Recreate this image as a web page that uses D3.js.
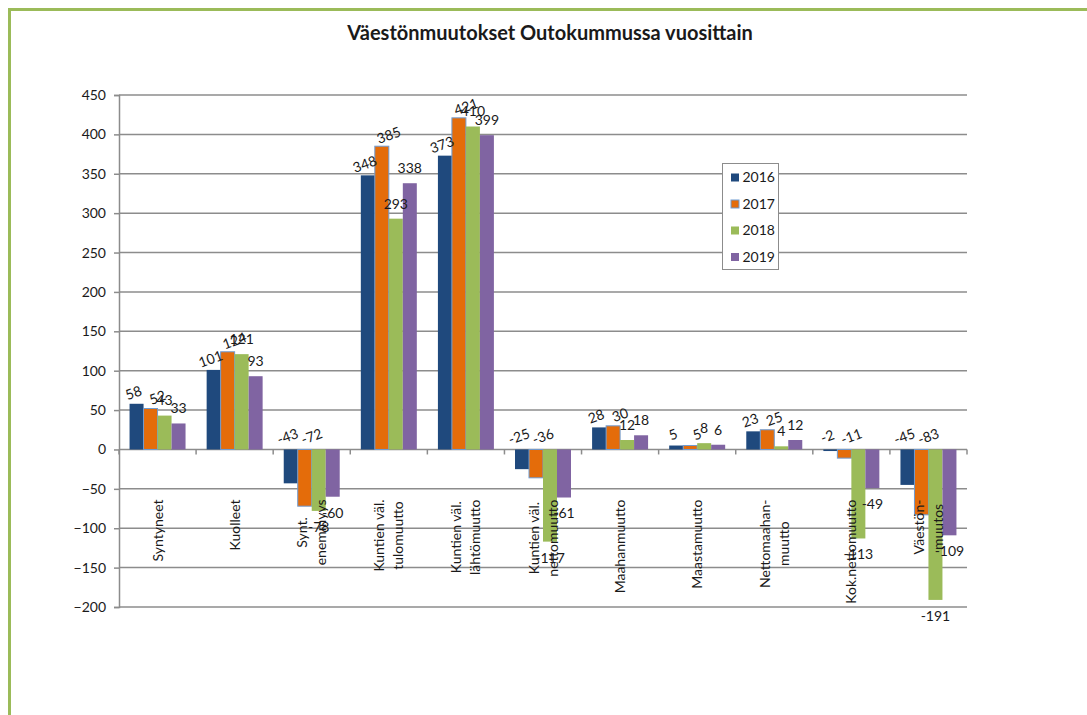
<!DOCTYPE html>
<html>
<head>
<meta charset="utf-8">
<script src="https://cdn.jsdelivr.net/npm/d3@7"></script>
<style>
  body { margin: 0; background: #fff; }
  text { font-family: Lato, "Open Sans", sans-serif; fill: #1a1a1a; }
</style>
</head>
<body>
<div id="chart"></div>
<script>
"use strict";

// data
var categories = ["Syntyneet", "Kuolleet", "Synt.\nenemmyys", "Kuntien väl.\ntulomuutto",
  "Kuntien väl.\nlähtömuutto", "Kuntien väl.\nnettomuutto", "Maahanmuutto", "Maastamuutto",
  "Nettomaahan-\nmuutto", "Kok.nettomuutto", "Väestön-\nmuutos"];
var years = ["2016", "2017", "2018", "2019"];
var values2016 = [58, 101, -43, 348, 373, -25, 28, 5, 23, -2, -45];
var values2017 = [52, 124, -72, 385, 421, -36, 30, 5, 25, -11, -83];
var values2018 = [43, 121, -78, 293, 410, -117, 12, 8, 4, -113, -191];
var values2019 = [33, 93, -60, 338, 399, -61, 18, 6, 12, -49, -109];
var yTicks = [-200, -150, -100, -50, 0, 50, 100, 150, 200, 250, 300, 350, 400, 450];
var title = "Väestönmuutokset Outokummussa vuosittain";

var series = [values2016, values2017, values2018, values2019];
var colors = ["#1f497d", "#e46c0a", "#9bbb59", "#8064a2"];

var W = 1087, H = 715;
var plot = { left: 119, top: 95, right: 967, bottom: 607 };
var fs = "14px";

var svg = d3.select("#chart").append("svg")
  .attr("width", W)
  .attr("height", H);

// green outer frame (runs off the right and bottom)
svg.append("rect")
  .attr("x", 9.5).attr("y", 9.5)
  .attr("width", W + 40).attr("height", H + 40)
  .attr("fill", "none")
  .attr("stroke", "#9bbb59")
  .attr("stroke-width", 3);

svg.append("text")
  .attr("x", 550).attr("y", 40)
  .attr("text-anchor", "middle")
  .style("font-size", "20px")
  .style("font-weight", "bold")
  .text(title);

var y = d3.scaleLinear().domain([-200, 450]).range([plot.bottom, plot.top]);
var x0 = d3.scaleBand().domain(d3.range(categories.length)).range([plot.left, plot.right]);
var x1 = d3.scaleBand().domain(years).range([0, x0.bandwidth()]).paddingOuter(0.754);

// gridlines
svg.append("g")
  .selectAll("line").data(yTicks).join("line")
    .attr("x1", plot.left).attr("x2", plot.right)
    .attr("y1", d => y(d)).attr("y2", d => y(d))
    .attr("stroke", "#8c8c8c")
    .attr("stroke-width", 1.5);

// y axis
var yAxis = svg.append("g")
  .attr("transform", "translate(" + plot.left + ",0)")
  .call(d3.axisLeft(y).tickValues(yTicks).tickSize(5).tickPadding(8));
yAxis.selectAll("path, line").attr("stroke", "#8c8c8c").attr("stroke-width", 1.5);
yAxis.selectAll("text").style("font-size", fs).style("font-family", "Lato, sans-serif").attr("fill", "#1a1a1a");

// category ticks on the zero line
svg.append("g")
  .selectAll("line").data(d3.range(categories.length + 1)).join("line")
    .attr("x1", d => plot.left + d * x0.step())
    .attr("x2", d => plot.left + d * x0.step())
    .attr("y1", y(0)).attr("y2", y(0) + 5)
    .attr("stroke", "#8c8c8c")
    .attr("stroke-width", 1.5);

// bars
var groups = svg.append("g").selectAll("g")
  .data(series).join("g")
    .attr("fill", (d, i) => colors[i]);

groups.each(function(vals, si) {
  d3.select(this).selectAll("rect")
    .data(vals).join("rect")
      .attr("x", (d, ci) => x0(ci) + x1(years[si]))
      .attr("width", x1.bandwidth())
      .attr("y", d => y(Math.max(0, d)))
      .attr("height", d => Math.abs(y(d) - y(0)))
      .attr("stroke", si === 1 ? "#6f9bd1" : "none")
      .attr("stroke-width", si === 1 ? 1 : 0);
});

// category labels, rotated, lines centred, block top at fixed offset below zero
var labelTop = y(0) + 50;
var lineH = 19;
var catG = svg.append("g");
categories.forEach(function(c, ci) {
  var lines = c.split("\n");
  var cx = x0(ci) + x0.bandwidth() / 2;
  var g = catG.append("g");
  var t = g.append("text")
    .attr("text-anchor", "middle")
    .style("font-size", fs);
  lines.forEach(function(l, li) {
    t.append("tspan")
      .attr("x", 0)
      .attr("y", (li - (lines.length - 1) / 2) * lineH + 5)
      .text(l);
  });
  var maxLen = d3.max(t.selectAll("tspan").nodes(), n => n.getComputedTextLength());
  g.attr("transform", "translate(" + cx + "," + (labelTop + maxLen / 2) + ") rotate(-90)");
});

// data labels
var labelDx = [-3, 7, 0, 0];
var labG = svg.append("g");
series.forEach(function(vals, si) {
  vals.forEach(function(v, ci) {
    var cx = x0(ci) + x1(years[si]) + x1.bandwidth() / 2 + labelDx[si];
    if (si < 2) {
      var cy = v >= 0 ? y(v) - 11 : y(0) - 13;
      labG.append("text")
        .attr("transform", "translate(" + cx + "," + cy + ") rotate(-20)")
        .attr("text-anchor", "middle")
        .attr("dy", "0.35em")
        .style("font-size", fs)
        .text(v);
    } else {
      var cy2 = v >= 0 ? y(v) - 15 : y(v) + 16;
      labG.append("text")
        .attr("x", cx).attr("y", cy2)
        .attr("text-anchor", "middle")
        .attr("dy", "0.35em")
        .style("font-size", fs)
        .text(v);
    }
  });
});

// legend
var legend = svg.append("g").attr("transform", "translate(722.5,163.5)");
legend.append("rect")
  .attr("width", 56).attr("height", 106)
  .attr("fill", "#fff")
  .attr("stroke", "#8c8c8c");
years.forEach(function(yr, i) {
  var ry = 14 + i * 26.5;
  legend.append("rect")
    .attr("x", 8.5).attr("y", ry - 4)
    .attr("width", 8).attr("height", 8)
    .attr("fill", colors[i])
    .attr("stroke", i === 1 ? "#6f9bd1" : "none");
  legend.append("text")
    .attr("x", 20).attr("y", ry)
    .attr("dy", "0.35em")
    .style("font-size", fs)
    .text(yr);
});
</script>
</body>
</html>
